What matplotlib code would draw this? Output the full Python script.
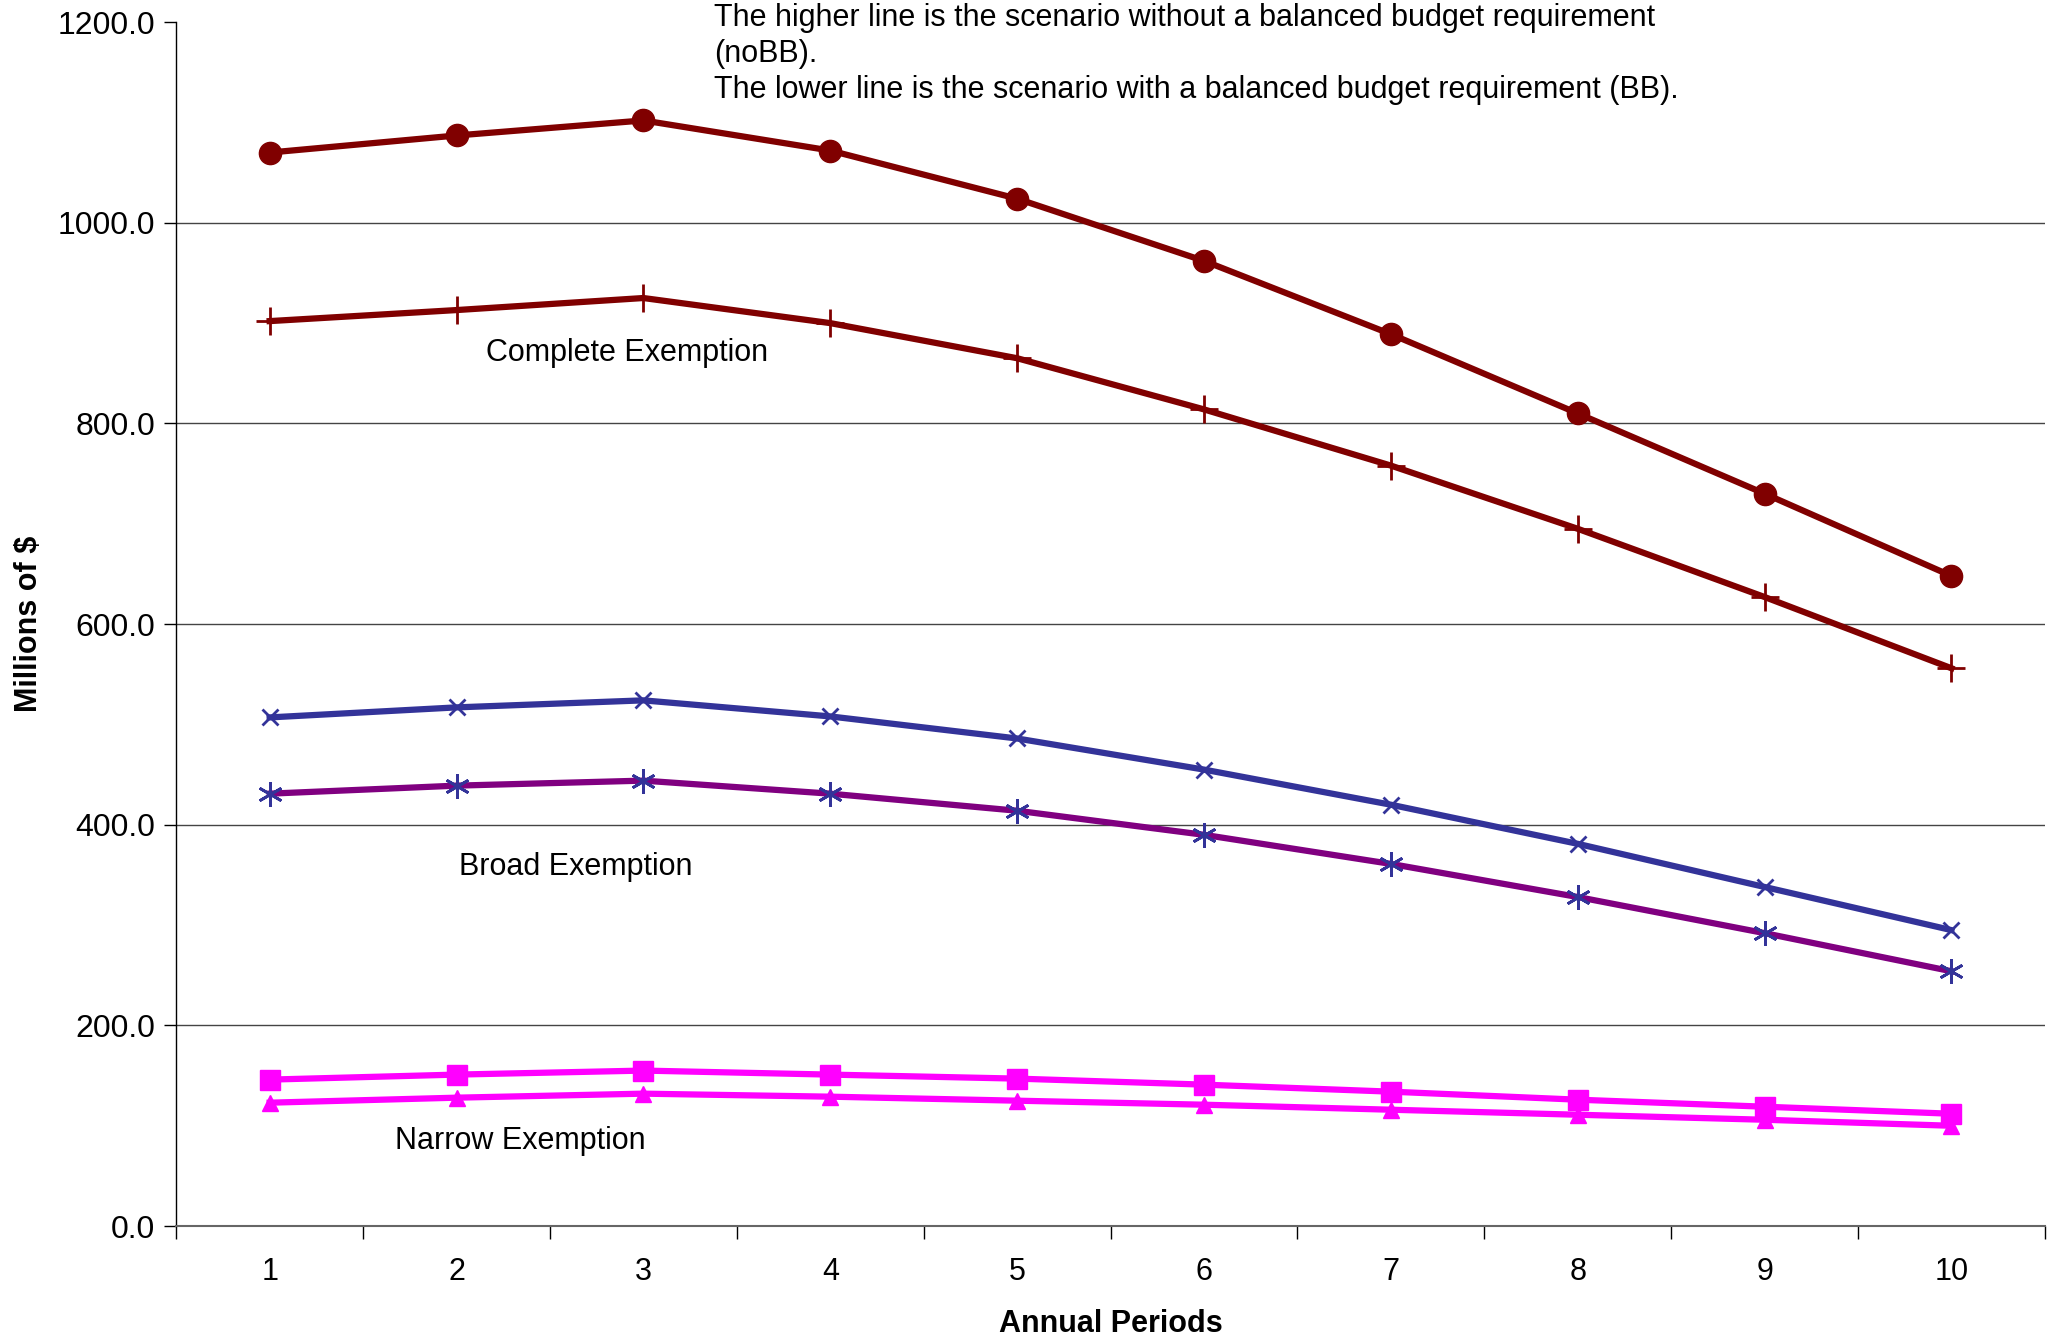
import matplotlib.pyplot as plt
from matplotlib.ticker import FixedLocator

plt.rcParams['font.family'] = ['Liberation Sans', 'DejaVu Sans']

periods = [1, 2, 3, 4, 5, 6, 7, 8, 9, 10]
y_ticks = [0, 200, 400, 600, 800, 1000, 1200]

complete_nobb = [1070, 1087, 1102, 1072, 1024, 962, 889, 810, 730, 648]
complete_bb = [902, 913, 925, 900, 865, 814, 758, 695, 627, 556]
broad_nobb = [507, 517, 524, 508, 486, 455, 420, 381, 338, 295]
broad_bb = [431, 439, 444, 431, 414, 390, 361, 328, 292, 254]
narrow_nobb = [146, 151, 155, 151, 147, 141, 134, 126, 119, 112]
narrow_bb = [123, 128, 132, 129, 125, 121, 116, 111, 106, 100]

fig = plt.figure(figsize=(20.49, 13.40), dpi=100)
ax = fig.add_axes([0.086, 0.085, 0.912, 0.8985])

lw = 4.5
ax.plot(periods, complete_nobb, color='#800000', lw=lw, marker='o', ms=16, zorder=3)
ax.plot(periods, complete_bb, color='#800000', lw=lw, marker='+', ms=20, mew=2, zorder=3)
ax.plot(periods, broad_nobb, color='#333399', lw=lw, marker='x', ms=12, mew=2, zorder=3)
ax.plot(periods, broad_bb, color='#800080', lw=lw, marker=(6, 2, 0), ms=18, mew=2,
        mec='#333399', zorder=3)
ax.plot(periods, narrow_nobb, color='#FF00FF', lw=lw, marker='s', ms=15, zorder=3)
ax.plot(periods, narrow_bb, color='#FF00FF', lw=lw, marker='^', ms=12, zorder=3)

ax.set_xlim(0.5, 10.5)
ax.set_ylim(0, 1200)
ax.set_yticks(y_ticks)
ax.set_yticklabels([f'{v:.1f}' for v in y_ticks])
ax.set_xticks(periods)
ax.xaxis.set_minor_locator(FixedLocator([i + 0.5 for i in range(0, 11)]))
ax.tick_params(axis='x', which='major', length=0, pad=22, labelsize=22)
ax.tick_params(axis='x', which='minor', length=9, width=1)
ax.tick_params(axis='y', length=9, width=1, labelsize=23, pad=6)

ax.grid(axis='y', color='#444444', lw=1)
ax.get_ygridlines()[-1].set_visible(False)
ax.set_axisbelow(True)
for s in ['top', 'right']:
    ax.spines[s].set_visible(False)
ax.spines['left'].set_linewidth(1)
ax.spines['bottom'].set_color('#666666')
ax.spines['bottom'].set_linewidth(1.5)

ax.set_xlabel('Annual Periods', fontsize=22, fontweight='bold', va='center')
ax.xaxis.set_label_coords(0.5, -0.081)
ax.set_ylabel('Millions of $', fontsize=22, fontweight='bold', va='center')
ax.yaxis.set_label_coords(-0.0787, 0.5)

ax.text(2.91, 870, 'Complete Exemption', fontsize=22, ha='center', va='center')
ax.text(2.64, 358, 'Broad Exemption', fontsize=22, ha='center', va='center')
ax.text(2.34, 85, 'Narrow Exemption', fontsize=22, ha='center', va='center')
ax.text(3.38, 1219, 'The higher line is the scenario without a balanced budget requirement\n'
        '(noBB).\nThe lower line is the scenario with a balanced budget requirement (BB).',
        fontsize=22, ha='left', va='top', linespacing=1.27, clip_on=False)

fig.savefig('out.png', dpi=100)
